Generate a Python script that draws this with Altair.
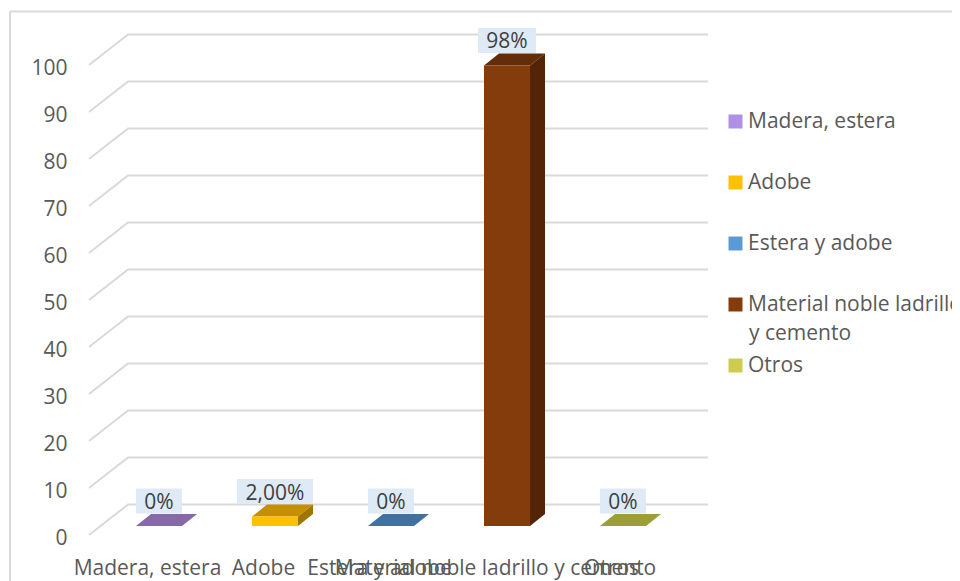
import altair as alt
import pandas as pd

categories = ["Madera, estera", "Adobe", "Estera y adobe", "Material noble ladrillo y cemento", "Otros"]
values = [0, 2, 0, 98, 0]
labels = ["0%", "2,00%", "0%", "98%", "0%"]
ticks = [0, 10, 20, 30, 40, 50, 60, 70, 80, 90, 100]

front_colors = ["#B08FE6", "#FFC000", "#5B9BD5", "#843C0C", "#CCCC4E"]
top_colors = ["#8769AA", "#C49000", "#41729F", "#642D09", "#9E9E38"]
side_colors = ["#6A5288", "#A07400", "#345C80", "#542407", "#7E7E2C"]

PX_X = 116.0
PX_Y = 4.7
FONT = "Open Sans"
FS = 21
GREY = "#D9D9D9"
TEXT = "#595959"


def ux(p):
    return p / PX_X


def uy(p):
    return p / PX_Y


floor_dx, floor_dy = ux(39), uy(30.5)
bar_dx, bar_dy = ux(15), uy(12)
bar_left, bar_w = ux(47), ux(46)
bar_floor = uy(9)
label_half = {"0%": 23, "2,00%": 38, "98%": 29}

x_scale = alt.Scale(domain=[0, 5], nice=False, zero=False)
y_scale = alt.Scale(domain=[0, 100], nice=False, zero=False)

grid_rows, front_rows, label_rows = [], [], []
face_layers = []


def face(rows, colour):
    return alt.Chart(pd.DataFrame(rows)).mark_area(color=colour, orient="vertical").encode(
        x=alt.X("x:Q", scale=x_scale),
        y=alt.Y("y:Q", scale=y_scale, stack=None),
        y2="y2:Q",
    )


for t in ticks:
    grid_rows += [
        {"t": t, "x": 0, "y": t},
        {"t": t, "x": floor_dx, "y": t + floor_dy},
        {"t": t, "x": 5 + floor_dx, "y": t + floor_dy},
    ]
for i, (c, v, lab) in enumerate(zip(categories, values, labels)):
    x0 = i + bar_left
    x1 = x0 + bar_w
    bottom = bar_floor
    top = v + bar_floor
    front_rows.append({"c": c, "x": x0, "x2": x1, "y": top, "y2": bottom})
    face_layers.append(face([
        {"x": x0, "y": top, "y2": top},
        {"x": x0 + bar_dx, "y": top + bar_dy, "y2": top},
        {"x": x1, "y": top + bar_dy, "y2": top},
        {"x": x1 + bar_dx, "y": top + bar_dy, "y2": top + bar_dy},
    ], top_colors[i]))
    if v > 0:
        face_layers.append(face([
            {"x": x1, "y": top, "y2": bottom},
            {"x": x1 + bar_dx, "y": top + bar_dy, "y2": bottom + bar_dy},
        ], side_colors[i]))
    hw = ux(label_half[lab])
    cx = x0 + bar_w / 2
    lo = top + uy(12.5)
    hi = lo + uy(25)
    label_rows.append({"lab": lab, "cx": cx, "x": cx - hw, "x2": cx + hw, "y": hi, "y2": lo, "ym": (lo + hi) / 2})

grid_df = pd.DataFrame(grid_rows)
front_df = pd.DataFrame(front_rows)
label_df = pd.DataFrame(label_rows)

names_js = "[" + ",".join(f"'{c}'" for c in categories) + "]"
x_axis = alt.Axis(
    values=[0.5, 1.5, 2.5, 3.5, 4.5],
    labelExpr=f"{names_js}[floor(datum.value)]",
    title=None, domain=False, ticks=False, grid=False,
    labelFont=FONT, labelFontSize=FS, labelColor=TEXT, labelPadding=22,
    labelOverlap=False, labelFlush=False, labelBound=False, labelLimit=600,
)
y_axis = alt.Axis(
    values=ticks, title=None, domain=False, ticks=False, grid=False,
    labelFont=FONT, labelFontSize=FS, labelColor=TEXT, labelPadding=22, labelOffset=3,
    labelOverlap=False, labelFlush=False, labelBound=False,
)

frame_df = pd.DataFrame({"a": [0]})
frame_top = alt.Chart(frame_df).mark_rule(color=GREY, strokeWidth=2).encode(
    x=alt.value(-79), x2=alt.value(880), y=alt.value(-53.5)
)
frame_left = alt.Chart(frame_df).mark_rule(color=GREY, strokeWidth=2).encode(
    x=alt.value(-79), y=alt.value(-53.5), y2=alt.value(520)
)

grid = alt.Chart(grid_df).mark_line(color=GREY, strokeWidth=2).encode(
    x=alt.X("x:Q", scale=x_scale, axis=x_axis),
    y=alt.Y("y:Q", scale=y_scale, axis=y_axis),
    detail="t:N",
    order="x:Q",
)

front = alt.Chart(front_df).mark_rect().encode(
    x=alt.X("x:Q", scale=x_scale),
    x2="x2:Q",
    y=alt.Y("y:Q", scale=y_scale),
    y2="y2:Q",
    color=alt.Color(
        "c:N",
        scale=alt.Scale(domain=categories, range=front_colors),
        sort=categories,
        legend=alt.Legend(
            title=None, orient="none", legendX=636, legendY=46,
            symbolType="square", symbolSize=196, symbolStrokeWidth=0, symbolOpacity=1,
            labelFont=FONT, labelFontSize=FS, labelColor=TEXT, labelOffset=2,
            labelLimit=400, rowPadding=39, padding=0,
            labelExpr="datum.label == 'Material noble ladrillo y cemento' ? 'Material noble ladrillo' : datum.label",
        ),
    ),
)

label_bg = alt.Chart(label_df).mark_rect(color="#DEEAF6").encode(
    x=alt.X("x:Q", scale=x_scale), x2="x2:Q",
    y=alt.Y("y:Q", scale=y_scale), y2="y2:Q",
)
label_text = alt.Chart(label_df).mark_text(
    font=FONT, fontSize=FS, color="#404040", baseline="middle", dy=2
).encode(
    x=alt.X("cx:Q", scale=x_scale),
    y=alt.Y("ym:Q", scale=y_scale),
    text="lab:N",
)

legend_wrap = alt.Chart(pd.DataFrame({"s": ["y cemento"]})).mark_text(
    font=FONT, fontSize=FS, color=TEXT, align="left", baseline="middle"
).encode(x=alt.value(660), y=alt.value(269), text="s:N")

chart = alt.layer(
    frame_top, frame_left, grid, *face_layers, front, label_bg, label_text, legend_wrap
).properties(
    width=580, height=470,
    autosize=alt.AutoSizeParams(type="none"),
    padding={"left": 81, "top": 57, "right": 283, "bottom": 46},
).configure_view(stroke=None)

chart.save("out.html", embed_options={"renderer": "svg", "actions": False})
